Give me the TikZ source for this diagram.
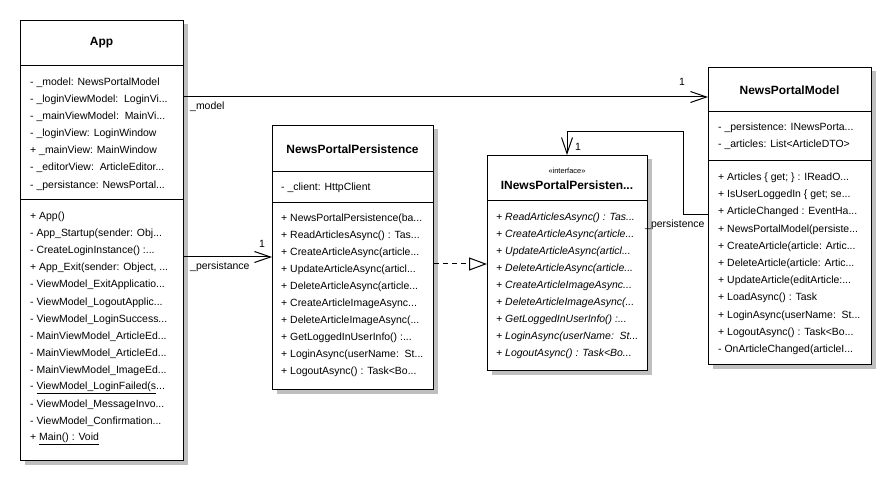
\documentclass[tikz,border=0pt]{standalone}
\usepackage{fontspec}
\setmainfont{Liberation Sans}
\usetikzlibrary{arrows.meta,shadows}
\begin{document}
\begin{tikzpicture}[x=1bp,y=-1bp,
  classbox/.style={draw, fill=white, line width=1bp, rectangle, anchor=north west, inner sep=0pt,
    general shadow={fill=black!25, shadow xshift=4bp, shadow yshift=-4bp}},
  mem/.style={anchor=west, inner sep=0pt, font=\fontsize{10.5}{12}\selectfont},
  imem/.style={mem, font=\fontsize{10.5}{12}\selectfont\itshape},
  ttl/.style={inner sep=0pt, font=\fontsize{12}{14}\selectfont\bfseries},
  stereo/.style={inner sep=0pt, font=\fontsize{7.5}{9}\selectfont},
  lbl/.style={inner sep=0pt, font=\fontsize{10.5}{12}\selectfont},
  sep/.style={line width=1bp},
  assoc/.style={line width=1bp, -{Straight Barb[length=16bp,width=11bp,line width=1bp]}},
  realize/.style={line width=1bp, dash pattern=on 5bp off 4bp, -{Triangle[open,length=18bp,width=13bp,line width=1bp]}}
]
\useasboundingbox[fill=white] (0,0) rectangle (895,479);

% ---------- class boxes ----------
\node[classbox, minimum width=163bp, minimum height=440bp] (app) at (20,20) {};
\node[classbox, minimum width=161bp, minimum height=264bp] (npp) at (272,125) {};
\node[classbox, minimum width=160bp, minimum height=215bp] (iface) at (487,155) {};
\node[classbox, minimum width=163bp, minimum height=297bp] (npm) at (708,67) {};

% compartment separators
\draw[sep] (app.west |- 0,66) -- (app.east |- 0,66);
\draw[sep] (app.west |- 0,200) -- (app.east |- 0,200);
\draw[sep] (npp.west |- 0,172) -- (npp.east |- 0,172);
\draw[sep] (npp.west |- 0,203) -- (npp.east |- 0,203);
\draw[sep] (iface.west |- 0,201) -- (iface.east |- 0,201);
\draw[sep] (npm.west |- 0,112) -- (npm.east |- 0,112);
\draw[sep] (npm.west |- 0,161) -- (npm.east |- 0,161);

% ---------- App ----------
\node[ttl] (app-t) at (101.5,43) {App};
\node[mem] (app-a1) at (30,83)  {- \_model: NewsPortalModel};
\node[mem] (app-a2) at (30,100) {- \_loginViewModel:\ \ LoginVi...};
\node[mem] (app-a3) at (30,117) {- \_mainViewModel:\ \ MainVi...};
\node[mem] (app-a4) at (30,134) {- \_loginView: LoginWindow};
\node[mem] (app-a5) at (30,151) {+ \_mainView: MainWindow};
\node[mem] (app-a6) at (30,168) {- \_editorView:\ \ ArticleEditor...};
\node[mem] (app-a7) at (30,186) {- \_persistance: NewsPortal...};

\node[mem] (app-m1)  at (30,217) {+ App()};
\node[mem] (app-m2)  at (30,234) {- App\_Startup(sender: Obj...};
\node[mem] (app-m3)  at (30,251) {- CreateLoginInstance() :...};
\node[mem] (app-m4)  at (30,268) {+ App\_Exit(sender: Object, ...};
\node[mem] (app-m5)  at (30,285) {- ViewModel\_ExitApplicatio...};
\node[mem] (app-m6)  at (30,303) {- ViewModel\_LogoutApplic...};
\node[mem] (app-m7)  at (30,320) {- ViewModel\_LoginSuccess...};
\node[mem] (app-m8)  at (30,337) {- MainViewModel\_ArticleEd...};
\node[mem] (app-m9)  at (30,354) {- MainViewModel\_ArticleEd...};
\node[mem] (app-m10) at (30,371) {- MainViewModel\_ImageEd...};
\node[mem] (app-m11) at (30,388) {- \underline{ViewModel\_LoginFailed(s}...};
\node[mem] (app-m12) at (30,405) {- ViewModel\_MessageInvo...};
\node[mem] (app-m13) at (30,422) {- ViewModel\_Confirmation...};
\node[mem] (app-m14) at (30,439) {+ \underline{Main() : Void}};

% ---------- NewsPortalPersistence ----------
\node[ttl] (npp-t) at (352.5,149) {NewsPortalPersistence};
\node[mem] (npp-a1) at (281,188) {- \_client: HttpClient};
\node[mem] (npp-m1)  at (281,219) {+ NewsPortalPersistence(ba...};
\node[mem] (npp-m2)  at (281,236) {+ ReadArticlesAsync() : Tas...};
\node[mem] (npp-m3)  at (281,253) {+ CreateArticleAsync(article...};
\node[mem] (npp-m4)  at (281,270) {+ UpdateArticleAsync(articl...};
\node[mem] (npp-m5)  at (281,287) {+ DeleteArticleAsync(article...};
\node[mem] (npp-m6)  at (281,304) {+ CreateArticleImageAsync...};
\node[mem] (npp-m7)  at (281,321) {+ DeleteArticleImageAsync(...};
\node[mem] (npp-m8)  at (281,338) {+ GetLoggedInUserInfo() :...};
\node[mem] (npp-m9)  at (281,355) {+ LoginAsync(userName:\ \ St...};
\node[mem] (npp-m10) at (281,372) {+ LogoutAsync() : Task<Bo...};

% ---------- INewsPortalPersistence ----------
\node[stereo] (if-s) at (567,171) {«interface»};
\node[ttl] (if-t) at (567,185) {INewsPortalPersisten...};
\node[imem] (if-m1) at (496,218) {+ ReadArticlesAsync() : Tas...};
\node[imem] (if-m2) at (496,235) {+ CreateArticleAsync(article...};
\node[imem] (if-m3) at (496,252) {+ UpdateArticleAsync(articl...};
\node[imem] (if-m4) at (496,269) {+ DeleteArticleAsync(article...};
\node[imem] (if-m5) at (496,286) {+ CreateArticleImageAsync...};
\node[imem] (if-m6) at (496,303) {+ DeleteArticleImageAsync(...};
\node[imem] (if-m7) at (496,320) {+ GetLoggedInUserInfo() :...};
\node[imem] (if-m8) at (496,337) {+ LoginAsync(userName:\ \ St...};
\node[imem] (if-m9) at (496,354) {+ LogoutAsync() : Task<Bo...};

% ---------- NewsPortalModel ----------
\node[ttl] (npm-t) at (789.5,90) {NewsPortalModel};
\node[mem] (npm-a1) at (718,128) {- \_persistence: INewsPorta...};
\node[mem] (npm-a2) at (718,145) {- \_articles: List<ArticleDTO>};
\node[mem] (npm-m1)  at (718,178) {+ Articles \{ get; \} : IReadO...};
\node[mem] (npm-m2)  at (718,195) {+ IsUserLoggedIn \{ get; se...};
\node[mem] (npm-m3)  at (718,212) {+ ArticleChanged : EventHa...};
\node[mem] (npm-m4)  at (718,230) {+ NewsPortalModel(persiste...};
\node[mem] (npm-m5)  at (718,247) {+ CreateArticle(article: Artic...};
\node[mem] (npm-m6)  at (718,264) {+ DeleteArticle(article: Artic...};
\node[mem] (npm-m7)  at (718,281) {+ UpdateArticle(editArticle:...};
\node[mem] (npm-m8)  at (718,298) {+ LoadAsync() : Task};
\node[mem] (npm-m9)  at (718,316) {+ LoginAsync(userName:\ \ St...};
\node[mem] (npm-m10) at (718,333) {+ LogoutAsync() : Task<Bo...};
\node[mem] (npm-m11) at (718,350) {- OnArticleChanged(articleI...};

% ---------- connectors ----------
\draw[assoc] (app.east |- 0,97) -- (npm.west |- 0,97);
\node[lbl, anchor=west] (l-model) at (190,107) {\_model};
\node[lbl] (l-model1) at (682,82) {1};

\draw[assoc] (app.east |- 0,257) -- (npp.west |- 0,257);
\node[lbl, anchor=west] (l-pers) at (190,267) {\_persistance};
\node[lbl] (l-pers1) at (262,244) {1};

\draw[realize] (npp.east |- 0,264) -- (iface.west |- 0,264);

\coordinate (bend) at (683,132);
\draw[assoc] (npm.west |- 0,215) -| (bend) -| (iface.north -| 567,0);
\node[lbl, anchor=west] (l-persist) at (645,225) {\_persistence};
\node[lbl] (l-persist1) at (578,147) {1};
\end{tikzpicture}
\end{document}
